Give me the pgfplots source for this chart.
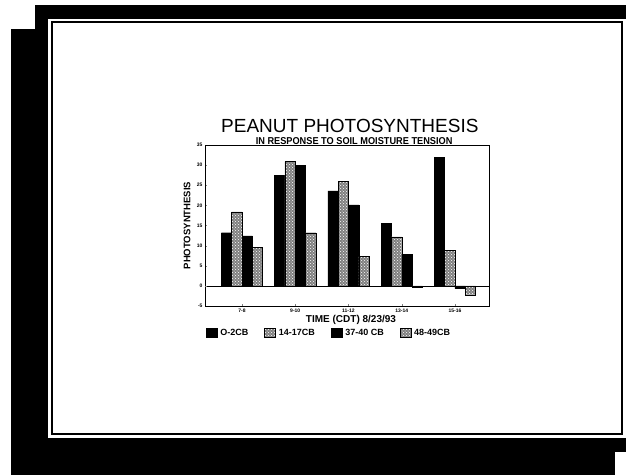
\documentclass[border=0pt]{standalone}
\usepackage{fontspec}
\setmainfont{Liberation Sans}
\usepackage{pgfplots}
\pgfplotsset{compat=1.18}
\usetikzlibrary{patterns}

% photosynthesis by soil moisture tension, 8/23/93
\pgfplotstableread{
x  a     b     c     d
0  13.2  18.4  12.4  9.6
1  27.5  30.9  29.9  13.2
2  23.6  25.9  20.1  7.3
3  15.5  12.2  7.9   -0.4
4  32.0  8.8   -0.7  -2.2
}\peanut

\begin{document}
\begin{tikzpicture}
% slide frame of the scan
\useasboundingbox (0pt,0pt) rectangle (626pt,475pt);
\fill[white] (0pt,0pt) rectangle (626pt,475pt);
\fill[black] (35pt,456pt) rectangle (626pt,470pt);
\fill[black] (35pt,446pt) rectangle (48pt,470pt);
\fill[black] (11pt,0pt) rectangle (48pt,446pt);
\fill[black] (11pt,0pt) rectangle (615pt,37pt);
\fill[black] (615pt,23pt) rectangle (626pt,37pt);
\draw[line width=2pt] (51.5pt,41pt) rectangle (621.5pt,453pt);

\begin{axis}[
  at={(205pt,169pt)}, anchor=south west,
  width=284pt, height=161pt, scale only axis,
  clip=false,
  ybar=0pt, bar width=10.3pt,
  xmin=-0.695, xmax=4.64, ymin=-5, ymax=35,
  xtick={0,...,4},
  xticklabels={7-8,9-10,11-12,13-14,15-16},
  ytick={-5,0,...,35},
  xtick pos=bottom, ytick pos=left,
  tick align=inside, major tick length=2pt,
  /pgf/number format/assume math mode=true,
  ticklabel style={font=\fontsize{5}{5}\selectfont\bfseries},
  yticklabel style={xshift=1pt},
  xticklabel style={yshift=1pt},
  axis line style={line width=0.8pt},
  extra y ticks={0}, extra y tick labels={},
  extra y tick style={grid=major, major grid style={black, line width=0.7pt}},
  ylabel={PHOTOSYNTHESIS},
  ylabel style={at={(axis description cs:-0.063,0.5)}, anchor=center,
    font=\bfseries\fontsize{9.5}{10}\selectfont},
  xlabel={TIME (CDT) 8/23/93},
  xlabel style={at={(axis description cs:0.514,-0.087)}, anchor=center,
    font=\bfseries\fontsize{10}{10}\selectfont},
  legend columns=4,
  legend style={at={(axis description cs:0.437,-0.168)}, anchor=center,
    draw=none, font=\bfseries\fontsize{9}{9}\selectfont,
    /tikz/every odd column/.append style={column sep=1pt},
    /tikz/every even column/.append style={column sep=14pt}},
  legend image code/.code={\draw[#1] (0pt,-4.5pt) rectangle (11pt,4.5pt);},
]
\addplot[fill=black, draw=black] table[x=x, y=a] {\peanut};
\addplot[fill=black!50, draw=black, postaction={pattern=crosshatch dots, pattern color=white}] table[x=x, y=b] {\peanut};
\addplot[fill=black, draw=black] table[x=x, y=c] {\peanut};
\addplot[fill=black!50, draw=black, postaction={pattern=crosshatch dots, pattern color=white}] table[x=x, y=d] {\peanut};
\legend{O-2CB, 14-17CB, 37-40 CB, 48-49CB}

\node[anchor=base, inner sep=0pt, font=\fontsize{19}{19}\selectfont] at (axis description cs:0.51,1.08) {PEANUT PHOTOSYNTHESIS};
\node[anchor=base, inner sep=0pt, font=\bfseries\fontsize{10}{10}\selectfont] at (axis description cs:0.525,1.006)
  {\scalebox{0.92}[1]{IN RESPONSE TO SOIL MOISTURE TENSION}};
\end{axis}
\end{tikzpicture}
\end{document}
